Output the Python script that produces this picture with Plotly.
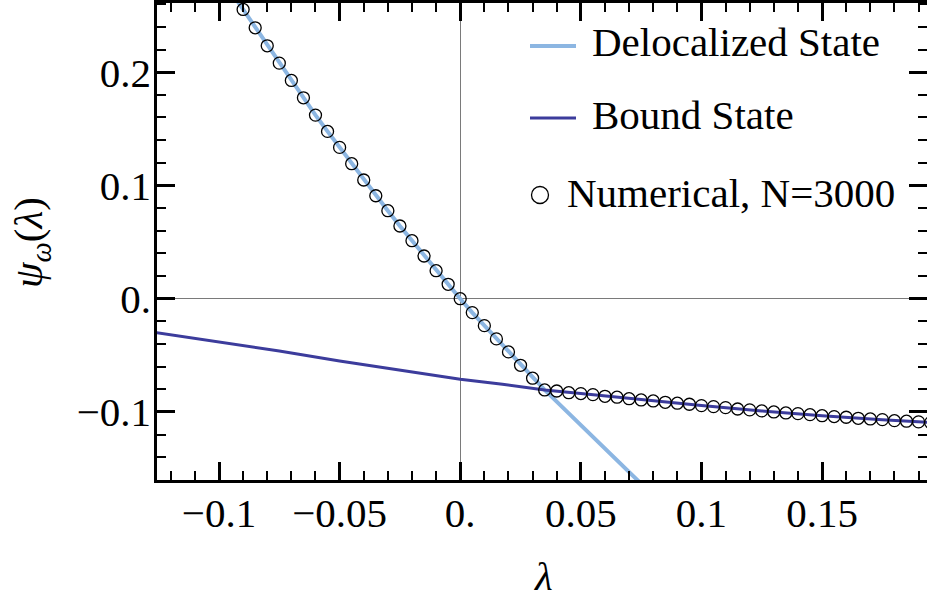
import plotly.graph_objects as go

# ---------------- data ----------------
deloc_x = [-0.095, -0.09, -0.085, -0.08, -0.075, -0.07, -0.065, -0.06, -0.055, -0.05,
           -0.045, -0.04, -0.035, -0.03, -0.025, -0.02, -0.015, -0.01, -0.005, 0.0,
           0.005, 0.01, 0.015, 0.02, 0.025, 0.03, 0.035, 0.045, 0.055, 0.065, 0.075]
deloc_y = [0.2710, 0.2554, 0.2392, 0.2233, 0.2080, 0.1927, 0.1774, 0.1621, 0.1477, 0.1336,
           0.1192, 0.1048, 0.0909, 0.0777, 0.0642, 0.0512, 0.0377, 0.0247, 0.0125, 0.0,
           -0.0123, -0.0238, -0.0355, -0.0470, -0.0588, -0.0702, -0.0806, -0.1013, -0.1220, -0.1427, -0.1634]

bound_x = [-0.126, -0.10, -0.075, -0.05, -0.025, 0.0, 0.0175, 0.035, 0.05, 0.075,
           0.10, 0.125, 0.15, 0.175, 0.195]
bound_y = [-0.0300, -0.0382, -0.0462, -0.0550, -0.0634, -0.0712, -0.0755, -0.0806, -0.0838, -0.0894,
           -0.0944, -0.0991, -0.1033, -0.1068, -0.1094]

num_x = [-0.09, -0.085, -0.08, -0.075, -0.07, -0.065, -0.06, -0.055, -0.05, -0.045,
         -0.04, -0.035, -0.03, -0.025, -0.02, -0.015, -0.01, -0.005, 0.0, 0.005,
         0.01, 0.015, 0.02, 0.025, 0.03, 0.035, 0.04, 0.045, 0.05, 0.055,
         0.06, 0.065, 0.07, 0.075, 0.08, 0.085, 0.09, 0.095, 0.10, 0.105,
         0.11, 0.115, 0.12, 0.125, 0.13, 0.135, 0.14, 0.145, 0.15, 0.155,
         0.16, 0.165, 0.17, 0.175, 0.18, 0.185, 0.19, 0.195]
num_y = [0.2554, 0.2392, 0.2233, 0.2080, 0.1927, 0.1774, 0.1621, 0.1477, 0.1336, 0.1192,
         0.1048, 0.0909, 0.0777, 0.0642, 0.0512, 0.0377, 0.0247, 0.0127, 0.0, -0.0123,
         -0.0238, -0.0355, -0.0470, -0.0588, -0.0702, -0.0806, -0.0815, -0.0830, -0.0838, -0.0847,
         -0.0862, -0.0870, -0.0883, -0.0894, -0.0903, -0.0915, -0.0923, -0.0932, -0.0944, -0.0953,
         -0.0962, -0.0974, -0.0982, -0.0991, -0.1000, -0.1009, -0.1015, -0.1024, -0.1033, -0.1041,
         -0.1047, -0.1056, -0.1062, -0.1068, -0.1077, -0.1082, -0.1088, -0.1094]

x_tickvals = [-0.1, -0.05, 0.0, 0.05, 0.1, 0.15]
x_ticktext = ["\u22120.1", "\u22120.05", "0.", "0.05", "0.1", "0.15"]
y_tickvals = [-0.1, 0.0, 0.1, 0.2]
y_ticktext = ["\u22120.1", "0.", "0.1", "0.2"]

legend_labels = ["Delocalized State", "Bound State", "Numerical, N=3000"]

# ---------------- styling ----------------
W, H = 927, 601
L, R, T, B = 157, 0, 3, 121
FONT = "Liberation Serif"
FS = 41
LIGHT = "#8cb6e2"
DARK = "#3c3c9c"

def px2x(px):
    return (px - L) / (W - L - R)

def px2y(py):
    return (H - B - py) / (H - B - T)

fig = go.Figure()
fig.add_trace(go.Scatter(x=deloc_x, y=deloc_y, mode="lines", line=dict(color=LIGHT, width=4),
                         name=legend_labels[0], showlegend=False, hoverinfo="skip"))
fig.add_trace(go.Scatter(x=bound_x, y=bound_y, mode="lines", line=dict(color=DARK, width=3),
                         name=legend_labels[1], showlegend=False, hoverinfo="skip"))
fig.add_trace(go.Scatter(x=num_x, y=num_y, mode="markers",
                         marker=dict(symbol="circle-open", size=12, color="black", line=dict(width=1.3)),
                         name=legend_labels[2], showlegend=False, hoverinfo="skip"))
# empty trace to activate the right-hand tick axis
fig.add_trace(go.Scatter(x=[None], y=[None], yaxis="y2", showlegend=False, hoverinfo="skip"))

xr = [-0.1257, 0.1935]
yr = [-0.1601, 0.2611]

common = dict(ticks="inside", ticklen=18, tickwidth=2.5, tickcolor="black",
              showgrid=False, tickfont=dict(family=FONT, size=FS, color="black"))

fig.update_layout(
    width=W, height=H,
    margin=dict(l=L, r=R, t=T, b=B),
    paper_bgcolor="white", plot_bgcolor="white",
    xaxis=dict(range=xr, showline=True, linewidth=2.5, linecolor="black", mirror="ticks",
               tickmode="array", tickvals=x_tickvals, ticktext=x_ticktext,
               minor=dict(ticks="inside", ticklen=9, tickwidth=2, tickcolor="black",
                          tick0=0, dtick=0.01, showgrid=False),
               zeroline=True, zerolinecolor="#7a7a7a", zerolinewidth=1,
               ticklabelstandoff=-5, **common),
    yaxis=dict(range=yr, showline=True, linewidth=2.5, linecolor="black", mirror=False,
               tickmode="array", tickvals=y_tickvals, ticktext=y_ticktext,
               minor=dict(ticks="inside", ticklen=9, tickwidth=2, tickcolor="black",
                          tick0=0, dtick=0.02, showgrid=False),
               zeroline=True, zerolinecolor="#7a7a7a", zerolinewidth=1,
               ticklabelstandoff=-5, **common),
    yaxis2=dict(range=yr, overlaying="y", side="right", showline=False, zeroline=False,
                tickmode="array", tickvals=y_tickvals, showticklabels=False,
                minor=dict(ticks="inside", ticklen=9, tickwidth=2, tickcolor="black",
                           tick0=0, dtick=0.02, showgrid=False),
                **common),
    showlegend=False,
)

# axis titles
fig.add_annotation(text="<i>λ</i>", xref="paper", yref="paper", x=px2x(543), y=px2y(576),
                   showarrow=False, font=dict(family=FONT, size=FS, color="black"),
                   xanchor="center", yanchor="middle")
fig.add_annotation(text="<i>ψ</i><sub><i>ω</i></sub>(<i>λ</i>)", xref="paper", yref="paper",
                   x=px2x(31), y=px2y(243), textangle=-90, showarrow=False,
                   font=dict(family=FONT, size=FS, color="black"),
                   xanchor="center", yanchor="middle")

# legend (drawn manually)
fig.add_shape(type="line", xref="paper", yref="paper", x0=px2x(530), x1=px2x(576),
              y0=px2y(46), y1=px2y(46), line=dict(color=LIGHT, width=4))
fig.add_shape(type="line", xref="paper", yref="paper", x0=px2x(530), x1=px2x(576),
              y0=px2y(118), y1=px2y(118), line=dict(color=DARK, width=3))
fig.add_shape(type="circle", xref="paper", yref="paper", xsizemode="pixel", ysizemode="pixel",
              xanchor=px2x(540), yanchor=px2y(195), x0=-8.5, x1=8.5, y0=-8.5, y1=8.5,
              line=dict(color="black", width=1.3))
for txt, xpx, ypx in [(legend_labels[0], 590, 42), (legend_labels[1], 590, 115), (legend_labels[2], 565, 193)]:
    fig.add_annotation(text=txt, xref="paper", yref="paper", x=px2x(xpx), y=px2y(ypx),
                       showarrow=False, xanchor="left", yanchor="middle",
                       font=dict(family=FONT, size=FS, color="black"))

fig.write_html("out.html")
